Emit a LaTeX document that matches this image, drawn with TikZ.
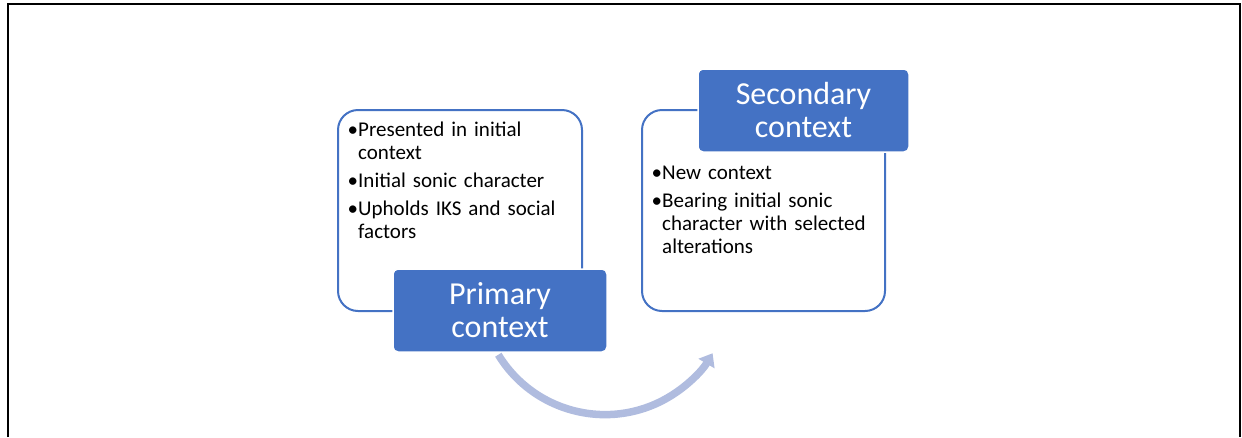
\documentclass[tikz,border=0pt]{standalone}
\usepackage{fontspec}
\setmainfont{Carlito}
\usetikzlibrary{arrows.meta}
\definecolor{accent}{HTML}{4472C4}
\definecolor{arcblue}{HTML}{B0BCDF}
% bullet mark and the indent of a wrapped line
\newcommand\bmark{\makebox[9pt][l]{\kern-1.5pt\textbullet}}
\newcommand\bcont{\hspace*{9pt}}
\begin{document}
\begin{tikzpicture}[x=1pt,y=-1pt,
  frame/.style={line width=2pt, draw=black},
  outline/.style={draw=accent, line width=2pt, fill=white, rounded corners=20pt, inner sep=0pt},
  titlebox/.style={fill=accent, draw=white, line width=1.5pt, rounded corners=5pt,
    text=white, align=center, inner sep=0pt, font=\fontsize{32}{33}\selectfont},
  listtext/.style={anchor=base west, inner sep=0pt, text width=235pt, align=left,
    font=\fontsize{21}{23}\selectfont},
  flow/.style={draw=arcblue, line width=7.5pt, -{Triangle[length=12pt,width=18pt]}}]
\useasboundingbox (0,0) rectangle (1242,437);
% outer frame, open at the bottom
\draw[frame] (7.7,437) -- (7.7,4.2) -- (1240.3,4.2) -- (1240.3,437);

% primary stage
\node[outline, minimum width=244pt, minimum height=201pt] (outL) at (460,210.5) {};
\node[listtext] (listL) at (349,136) {%
  \bmark Presented in initial\\
  \bcont context\\[5pt]
  \bmark Initial sonic character\\[5pt]
  \bmark Upholds IKS and social\\
  \bcont factors};
\node[titlebox, minimum width=214pt, minimum height=83pt] (pri) at (500,310.5) {Primary\\context};

% secondary stage
\node[outline, minimum width=243pt, minimum height=201pt] (outR) at (763.5,210.5) {};
\node[listtext] (listR) at (653,179) {%
  \bmark New context\\[5pt]
  \bmark Bearing initial sonic\\
  \bcont character with selected\\
  \bcont alterations};
\node[titlebox, minimum width=211pt, minimum height=83pt] (sec) at (803.5,110.5) {Secondary\\context};

% curved transition arrow
\coordinate (pivot) at (605,289.6);
\draw[flow] (pivot) ++(148.6:125) arc[start angle=148.6, end angle=30.6, radius=125];
\end{tikzpicture}
\end{document}
